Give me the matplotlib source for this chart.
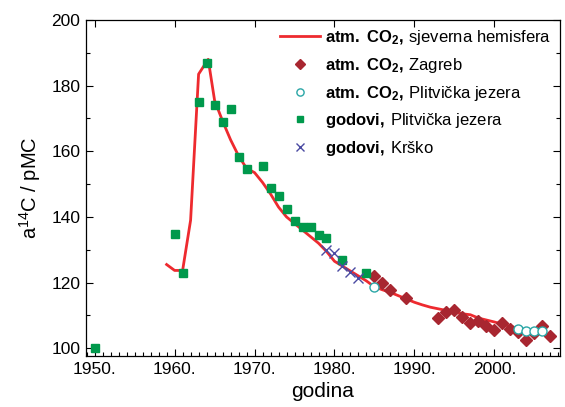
import matplotlib
matplotlib.use('Agg')
import matplotlib.pyplot as plt
from matplotlib.ticker import MultipleLocator, FuncFormatter

plt.rcParams['font.family'] = ['Liberation Sans', 'DejaVu Sans']
plt.rcParams['mathtext.fontset'] = 'custom'
plt.rcParams['mathtext.rm'] = 'Liberation Sans'
plt.rcParams['mathtext.bf'] = 'Liberation Sans:bold'

# atm. CO2, northern hemisphere (line)
nh_year = [1959, 1960, 1961, 1962, 1963, 1963.8, 1964.2, 1965, 1966, 1967,
	1968, 1969, 1970, 1971, 1972, 1973, 1974, 1975, 1976, 1977, 1978, 1979,
	1980, 1981, 1982, 1983, 1984, 1985, 1986, 1987, 1988, 1989, 1990, 1991,
	1992, 1993, 1994, 1995, 1996, 1997, 1998, 1999, 2000, 2001, 2002, 2003]
nh_val = [125.5, 123.7, 123.7, 139.0, 183.5, 186.5, 188.0, 175.5, 169.2, 163.5,
	158.6, 154.8, 153.5, 150.5, 147.0, 143.0, 140.0, 138.0, 136.0, 134.0, 132.0,
	129.5, 126.5, 125.0, 123.5, 122.0, 120.5, 118.7, 117.8, 117.0, 116.0, 115.0,
	114.0, 113.2, 112.5, 112.0, 111.5, 111.0, 110.5, 110.2, 109.2, 108.6, 108.0,
	107.3, 106.7, 106.0]

# atm. CO2, Zagreb (diamonds)
zg_year = [1985, 1986, 1987, 1989, 1993, 1994, 1995, 1996, 1997, 1998, 1999,
	2000, 2001, 2002, 2003, 2004, 2005, 2006, 2007]
zg_val = [122.0, 119.8, 117.7, 115.4, 109.2, 110.9, 111.5, 109.5, 107.6, 108.2,
	106.8, 105.5, 107.7, 106.0, 104.8, 102.6, 104.5, 106.7, 103.6]

# atm. CO2, Plitvice Lakes (open circles)
pl_year = [1985, 2003, 2004, 2005, 2006]
pl_val = [118.8, 106.0, 105.3, 105.3, 105.3]

# tree rings, Plitvice Lakes (squares)
tr_year = [1950, 1960, 1961, 1963, 1964, 1965, 1966, 1967, 1968, 1969, 1971,
	1972, 1973, 1974, 1975, 1976, 1977, 1978, 1979, 1981, 1984]
tr_val = [100.2, 134.8, 123.0, 175.0, 186.8, 174.0, 169.0, 173.0, 158.3, 154.5,
	155.4, 148.7, 146.5, 142.4, 138.9, 137.0, 137.0, 134.6, 133.7, 126.9, 122.9]

# tree rings, Krsko (crosses)
kr_year = [1979, 1980, 1981, 1982, 1983]
kr_val = [130.0, 128.9, 124.9, 123.3, 121.3]

fig = plt.figure(figsize=(5.65, 4.07), dpi=100)
ax = fig.add_axes([0.152, 0.125, 0.839, 0.826])

ax.plot(nh_year, nh_val, color='#ee2a2f', lw=2.0,
	label=r'$\mathbf{atm.\:CO_2,}\,$sjeverna hemisfera', zorder=2)
ax.plot(zg_year, zg_val, ls='none', marker='D', ms=6.5, color='#a82630',
	label=r'$\mathbf{atm.\:CO_2,}\,$Zagreb', zorder=3)
ax.plot(pl_year, pl_val, ls='none', marker='o', ms=6.5, mfc='white',
	mec='#2aa6a6', mew=1.0, label=r'$\mathbf{atm.\:CO_2,}\,$Plitvička jezera',
	zorder=4)
ax.plot(tr_year, tr_val, ls='none', marker='s', ms=5.8, color='#00994c',
	label=r'$\mathbf{godovi,}\,$Plitvička jezera', zorder=3)
ax.plot(kr_year, kr_val, ls='none', marker='x', ms=7, mew=1.0,
	color='#4a4aa2', label=r'$\mathbf{godovi,}\,$Krško', zorder=4)

ax.set_xlim(1948.9, 2008.2)
ax.set_ylim(97.6, 200)
ax.xaxis.set_major_locator(MultipleLocator(10))
ax.xaxis.set_minor_locator(MultipleLocator(1))
ax.yaxis.set_major_locator(MultipleLocator(20))
ax.yaxis.set_minor_locator(MultipleLocator(10))
ax.xaxis.set_major_formatter(FuncFormatter(lambda v, p: f'{v:.0f}.'))
ax.tick_params(which='both', direction='in', top=True, right=True,
	labelsize=12.5, width=0.8, pad=4)
ax.tick_params(which='major', length=5)
ax.tick_params(which='minor', length=3, top=False)
for s in ax.spines.values():
	s.set_linewidth(0.9)

ax.set_xlabel('godina', fontsize=15, labelpad=4)
ax.set_ylabel(r'a$^{14}$C / pMC', fontsize=14.5, labelpad=6)

ax.legend(loc='upper right', bbox_to_anchor=(1.0, 1.0), frameon=False,
	fontsize=12, handlelength=2.4, handletextpad=0.35, labelspacing=0.52,
	borderaxespad=0.1, markerscale=0.8)

fig.savefig('out.png', dpi=100)
